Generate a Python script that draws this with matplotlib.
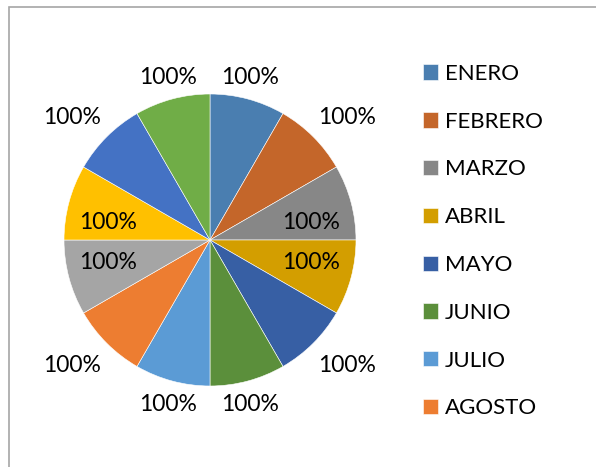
import matplotlib
matplotlib.use("Agg")
import matplotlib.pyplot as plt
from matplotlib.patches import Rectangle
import numpy as np

plt.rcParams['font.family'] = ['Lato', 'DejaVu Sans']

categories = ["ENERO", "FEBRERO", "MARZO", "ABRIL", "MAYO", "JUNIO",
              "JULIO", "AGOSTO", "SEPTIEMBRE", "OCTUBRE", "NOVIEMBRE", "DICIEMBRE"]
values = [1, 1, 1, 1, 1, 1, 1, 1, 1, 1, 1, 1]
labels_text = ["100%"] * 12
legend_count = 8  # legend shows only the first eight entries

colors = ["#4A7EB0", "#C4662A", "#878787", "#D39E00", "#375FA4", "#5B8F3B",
          "#5B9BD5", "#ED7D31", "#A5A5A5", "#FFC000", "#4472C4", "#70AD47"]

# label placement (in pie-radius units relative to centre)
label_xy = [(0.274, 1.116), (0.938, 0.836), (0.692, 0.123), (0.692, -0.151),
            (0.938, -0.863), (0.274, -1.130), (-0.289, -1.130), (-0.945, -0.863),
            (-0.699, -0.151), (-0.699, 0.123), (-0.945, 0.836), (-0.289, 1.116)]

W, H = 596, 467
fig = plt.figure(figsize=(W / 100, H / 100), dpi=100)
fig.patch.set_facecolor("white")

# chart area border (partially visible)
fig.patches.append(Rectangle((8.5 / W, -0.2), 1.2, 0.2 + (1 - 6.5 / H),
                             transform=fig.transFigure, fill=False,
                             edgecolor="#A6A6A6", linewidth=1.2))

ax = fig.add_axes([0, 0, 1, 1])
ax.axis("off")

cx, cy, R = 210, H - 240, 146
wedges, _ = ax.pie(values, colors=colors, startangle=90, counterclock=False,
                   center=(cx, cy), radius=R,
                   wedgeprops=dict(edgecolor="white", linewidth=0.4))
ax.set_aspect("equal")
ax.set_xlim(0, W)
ax.set_ylim(0, H)

for (lx, ly), t in zip(label_xy, labels_text):
    ax.text(cx + lx * R, cy + ly * R, t, ha="center", va="center",
            fontsize=16.5, color="black")

fig.legend(wedges[:legend_count], categories[:legend_count],
           loc="upper left", bbox_to_anchor=(414 / W, 1 - 55 / H),
           frameon=False, fontsize=16, handlelength=0.68, handleheight=0.68,
           handletextpad=0.3, labelspacing=1.25, borderaxespad=0)

fig.savefig("out.png", dpi=100, facecolor="white")
